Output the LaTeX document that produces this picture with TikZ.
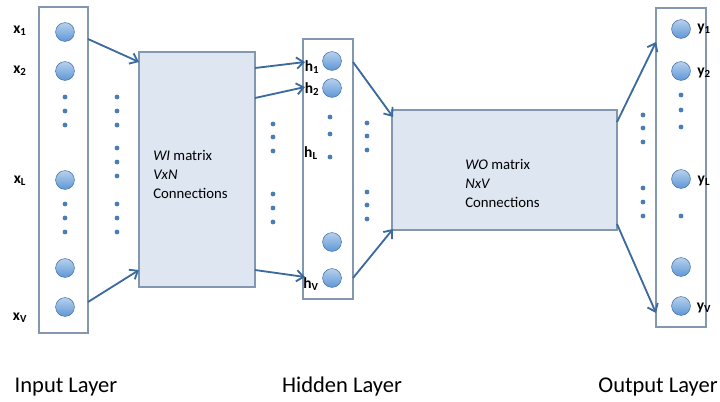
\documentclass[tikz,border=0pt]{standalone}
\usepackage{fontspec}
\setmainfont{Carlito}
\usetikzlibrary{arrows.meta}

\definecolor{ballblue}{HTML}{5E97D6}
\definecolor{balledge}{HTML}{4573A6}
\definecolor{boxedge}{HTML}{8398B0}
\definecolor{matfill}{HTML}{DDE6F1}
\definecolor{linkblue}{HTML}{3A6A9E}
\definecolor{dotblue}{HTML}{4A7DB5}

\tikzset{
  neuron/.style={circle, draw=balledge, top color=ballblue!45, bottom color=ballblue, minimum size=0.47cm, inner sep=0pt},
  vdot/.style={circle, fill=dotblue, minimum size=0.12cm, inner sep=0pt},
  layerbox/.style={draw=boxedge, line width=1pt, fill=white},
  matbox/.style={draw=boxedge, line width=1pt, fill=matfill},
  link/.style={draw=linkblue, line width=1.3pt, -{Straight Barb[length=5pt,width=8pt]}},
  lbl/.style={font=\fontsize{11}{13}\selectfont\bfseries, inner sep=0pt},
  boxtext/.style={font=\fontsize{10.5}{13.5}\selectfont, align=left, anchor=west, inner sep=0pt},
  title/.style={font=\fontsize{16}{19}\selectfont, inner sep=0pt, anchor=base}
}

\begin{document}
\begin{tikzpicture}[x=0.025cm, y=-0.025cm]
\useasboundingbox (0,0) rectangle (720,401);

% boxes
\node[layerbox, minimum width=1.225cm, minimum height=8.15cm] (inbox) at (63.5,170) {};
\node[matbox, minimum width=2.9cm, minimum height=5.875cm] (wibox) at (197,169.5) {};
\node[layerbox, minimum width=1.25cm, minimum height=6.5cm] (hidbox) at (328,169) {};
\node[matbox, minimum width=5.625cm, minimum height=3cm] (wobox) at (504.5,170) {};
\node[layerbox, minimum width=1.25cm, minimum height=7.975cm] (outbox) at (681,167.5) {};

% matrix texts
\node[boxtext] (witext) at (153,174) {\textit{WI} matrix\\\textit{VxN}\\Connections};
\node[boxtext] (wotext) at (465,183) {\textit{WO} matrix\\\textit{NxV}\\Connections};

% input layer
\foreach \n/\y in {x1/32, x2/71, xL/180, xm/268, xV/307}
  \node[neuron] (\n) at (65,\y) {};
\foreach \y [count=\i] in {97,111,125,204,218,232}
  \node[vdot] (indot\i) at (65,\y) {};
\node[lbl] (lx1) at (20,31) {x\textsubscript{1}};
\node[lbl] (lx2) at (20,71) {x\textsubscript{2}};
\node[lbl] (lxL) at (20,181) {x\textsubscript{L}};
\node[lbl] (lxV) at (20,318) {x\textsubscript{V}};

% hidden layer
\foreach \n/\y in {h1/61, h2/88, hm/242, hV/278}
  \node[neuron] (\n) at (332,\y) {};
\foreach \y [count=\i] in {117,134,157}
  \node[vdot] (hdot\i) at (330,\y) {};
\node[lbl] (lh1) at (312,67) {h\textsubscript{1}};
\node[lbl] (lh2) at (312,89) {h\textsubscript{2}};
\node[lbl] (lhL) at (311,153) {h\textsubscript{L}};
\node[lbl] (lhV) at (311,284) {h\textsubscript{V}};

% output layer
\foreach \n/\y in {y1/29, y2/71, yL/179, ym/267, yV/306}
  \node[neuron] (\n) at (681,\y) {};
\foreach \y [count=\i] in {95,110,127,216}
  \node[vdot] (outdot\i) at (681,\y) {};
\node[lbl] (ly1) at (704,29) {y\textsubscript{1}};
\node[lbl] (ly2) at (704,73) {y\textsubscript{2}};
\node[lbl] (lyL) at (704,181) {y\textsubscript{L}};
\node[lbl] (lyV) at (704,308) {y\textsubscript{V}};

% dots between layers
\foreach \y [count=\i] in {97,111,125,148,162,176,204,218,232}
  \node[vdot] (adot\i) at (117,\y) {};
\foreach \y [count=\i] in {124,137,151,194,208,222}
  \node[vdot] (bdot\i) at (273,\y) {};
\foreach \y [count=\i] in {123,136,150,192,205,219}
  \node[vdot] (cdot\i) at (367,\y) {};
\foreach \y [count=\i] in {115,128,142,188,202,216}
  \node[vdot] (ddot\i) at (643,\y) {};

% arrow ends
\coordinate (inA) at (88,39);
\coordinate (inB) at (88,302);
\coordinate (wiA) at (139,62);
\coordinate (wiB) at (139,270);
\coordinate (wiC) at (255,68);
\coordinate (wiD) at (255,98);
\coordinate (wiE) at (255,270);
\coordinate (hidA) at (305,62);
\coordinate (hidB) at (305,87);
\coordinate (hidC) at (305,277);
\coordinate (hidD) at (353,62);
\coordinate (hidE) at (353,278);
\coordinate (woA) at (393,117);
\coordinate (woB) at (393,229);
\coordinate (woC) at (617,122);
\coordinate (woD) at (617,224);
\coordinate (outA) at (656,42);
\coordinate (outB) at (656,313);

\draw[link] (inA) -- (wiA);
\draw[link] (inB) -- (wiB);
\draw[link] (wiC) -- (hidA);
\draw[link] (wiD) -- (hidB);
\draw[link] (wiE) -- (hidC);
\draw[link] (hidD) -- (woA);
\draw[link] (hidE) -- (woB);
\draw[link] (woC) -- (outA);
\draw[link] (woD) -- (outB);

% layer titles
\node[title] (tin) at (66,392) {Input Layer};
\node[title] (thid) at (342,392) {Hidden Layer};
\node[title] (tout) at (658,392) {Output Layer};
\end{tikzpicture}
\end{document}
